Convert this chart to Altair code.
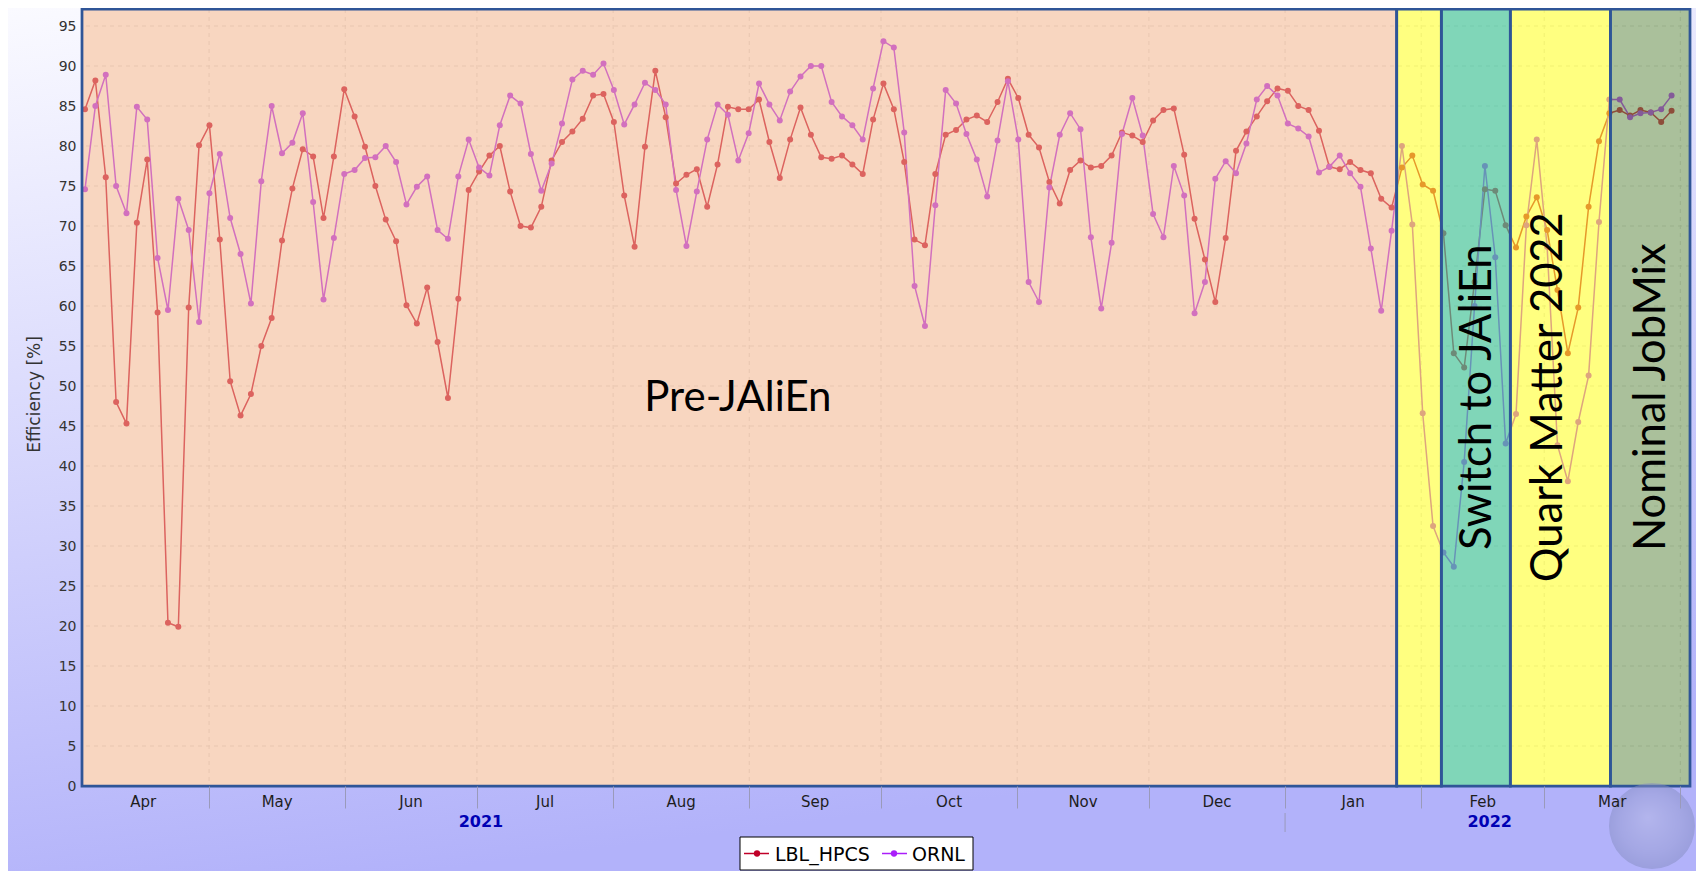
import altair as alt
import pandas as pd

# ---------------- data ----------------
series_names = ["LBL_HPCS", "ORNL"]

lbl_hpcs = [84.6, 88.2, 76.1, 48.0, 45.3, 70.4, 78.3, 59.2, 20.4, 19.9,
            59.8, 80.1, 82.6, 68.3, 50.6, 46.3, 49.0, 55.0, 58.5, 68.2,
            74.7, 79.6, 78.7, 71.0, 78.7, 87.1, 83.7, 79.9, 75.0, 70.8,
            68.1, 60.1, 57.8, 62.3, 55.5, 48.5, 60.9, 74.5, 76.8, 78.8,
            80.0, 74.3, 70.0, 69.8, 72.4, 78.2, 80.5, 81.8, 83.4, 86.3,
            86.5, 83.0, 73.8, 67.4, 79.9, 89.4, 83.6, 75.3, 76.4, 77.1,
            72.4, 77.7, 84.9, 84.6, 84.6, 85.8, 80.5, 76.0, 80.8, 84.8,
            81.4, 78.6, 78.4, 78.8, 77.7, 76.5, 83.3, 87.8, 84.6, 78.0,
            68.3, 67.6, 76.5, 81.4, 82.0, 83.3, 83.8, 83.0, 85.5, 88.4,
            86.0, 81.4, 79.8, 75.5, 72.8, 77.0, 78.2, 77.3, 77.5, 78.8,
            81.7, 81.3, 80.5, 83.2, 84.5, 84.7, 78.9, 70.9, 65.8, 60.5,
            68.5, 79.4, 81.8, 83.7, 85.6, 87.2, 86.9, 85.0, 84.5, 81.9,
            77.4, 77.1, 78.0, 77.0, 76.6, 73.4, 72.3, 77.3, 78.8, 75.2,
            74.4, 69.1, 54.1, 52.3, 63.0, 74.6, 74.4, 70.1, 67.3, 71.2,
            73.6, 69.5, 62.0, 54.1, 59.8, 72.4, 80.6, 84.1, 84.5, 83.8,
            84.5, 84.2, 83.0, 84.4]

ornl = [74.6, 85.0, 88.9, 75.0, 71.6, 84.9, 83.3, 66.0, 59.5, 73.4,
        69.5, 58.0, 74.1, 79.0, 71.0, 66.5, 60.3, 75.6, 85.0, 79.1,
        80.4, 84.1, 73.0, 60.8, 68.5, 76.5, 77.0, 78.5, 78.6, 80.0,
        78.0, 72.7, 74.9, 76.2, 69.5, 68.4, 76.2, 80.8, 77.3, 76.3,
        82.6, 86.3, 85.3, 79.0, 74.4, 77.8, 82.8, 88.3, 89.4, 88.9,
        90.3, 87.0, 82.7, 85.2, 87.9, 87.0, 85.2, 74.5, 67.5, 74.3,
        80.8, 85.2, 83.9, 78.2, 81.6, 87.8, 85.2, 83.2, 86.8, 88.7,
        90.0, 90.0, 85.5, 83.7, 82.6, 80.8, 87.2, 93.1, 92.3, 81.7,
        62.5, 57.5, 72.6, 87.0, 85.3, 81.5, 78.3, 73.7, 80.7, 88.1,
        80.8, 63.0, 60.5, 74.8, 81.4, 84.1, 82.1, 68.6, 59.7, 67.9,
        81.5, 86.0, 81.3, 71.5, 68.6, 77.5, 73.8, 59.1, 63.0, 75.9,
        78.1, 76.6, 80.3, 85.8, 87.5, 86.3, 82.8, 82.2, 81.2, 76.7,
        77.4, 78.8, 76.6, 74.9, 67.2, 59.4, 69.4, 80.0, 70.2, 46.6,
        32.5, 29.2, 27.4, 40.5, 60.0, 77.5, 66.1, 42.8, 46.5, 70.1,
        80.8, 67.4, 42.6, 38.1, 45.5, 51.3, 70.5, 85.8, 85.8, 83.6,
        84.1, 84.2, 84.6, 86.3]

first_sample = "2021-04-02 18:05"
sample_step = "3400min"

x_start = "2021-04-02 01:40"
x_end = "2022-04-03 04:50"

period_names = ["Pre-JAliEn", "Transition", "Switch to JAliEn", "Quark Matter 2022", "Nominal JobMix"]
period_bounds = ["2022-01-26 10:00", "2022-02-05 14:00", "2022-02-21 07:00", "2022-03-16 02:00"]

horizontal_notes = ["Pre-JAliEn"]
horizontal_note_time = ["2021-08-29 10:00"]
vertical_notes = ["Switch to JAliEn", "Quark Matter 2022", "Nominal JobMix"]
vertical_note_time = ["2022-02-13 22:00", "2022-03-02 02:00", "2022-03-25 12:00"]
note_efficiency = 48.5

month_names = ["Apr", "May", "Jun", "Jul", "Aug", "Sep", "Oct", "Nov", "Dec", "Jan", "Feb", "Mar"]
month_first = ["2021-04-01", "2021-05-01", "2021-06-01", "2021-07-01", "2021-08-01", "2021-09-01",
               "2021-10-01", "2021-11-01", "2021-12-01", "2022-01-01", "2022-02-01", "2022-03-01",
               "2022-04-01"]
year_names = ["2021", "2022"]
year_label_time = ["2021-07-01 22:00", "2022-02-16 14:00"]
year_break = "2022-01-01"

# ---------------- helpers / styles ----------------
ORIGIN = pd.Timestamp("2021-04-01")


def day(ts):
    return (pd.Timestamp(ts) - ORIGIN) / pd.Timedelta(days=1)


W, H = 1608, 777
Y_MAX = H / 8.0
X_LO, X_HI = day(x_start), day(x_end)


def px_day(px):
    return X_LO + px * (X_HI - X_LO) / W


LINE_COLORS = ["#c00028", "#aa1efa"]
PERIOD_FILLS = ["rgba(242,180,140,0.55)", "rgba(255,255,43,0.6)", "rgba(74,196,154,0.7)",
                "rgba(255,255,43,0.6)", "rgba(100,140,73,0.55)"]
FRAME = "#2f5597"
GRID = "#dcdcdc"
TICK = "#9a9aba"
AXFONT = "DejaVu Sans"

xs = alt.Scale(domain=[X_LO, X_HI], nice=False, zero=False)
ys = alt.Scale(domain=[0, Y_MAX], nice=False, zero=False)
cs = alt.Scale(domain=series_names, range=LINE_COLORS)

# ---------------- tables ----------------
times = pd.date_range(first_sample, periods=len(lbl_hpcs), freq=sample_step)
days = [day(t) for t in times]
df = pd.DataFrame({
    "day": days + days,
    "eff": lbl_hpcs + ornl,
    "series": [series_names[0]] * len(lbl_hpcs) + [series_names[1]] * len(ornl),
})

edges = [X_LO] + [day(t) for t in period_bounds] + [X_HI]
periods = pd.DataFrame({"period": period_names, "start": edges[:-1], "end": edges[1:]})

month_days = [day(t) for t in month_first]
month_df = pd.DataFrame({"m": month_names,
                         "day": [(a + b) / 2 for a, b in zip(month_days[:-1], month_days[1:])]})
tick_days = [d for d in month_days if X_LO < d < X_HI]
grid_v_df = pd.DataFrame({"day": tick_days})
grid_h_df = pd.DataFrame({"eff": list(range(5, 100, 5))})
year_df = pd.DataFrame({"y": year_names, "day": [day(t) for t in year_label_time]})
year_break_df = pd.DataFrame({"day": [day(year_break)]})
hnote_df = pd.DataFrame({"label": horizontal_notes, "day": [day(t) for t in horizontal_note_time],
                         "eff": [note_efficiency] * len(horizontal_notes)})
vnote_df = pd.DataFrame({"label": vertical_notes, "day": [day(t) for t in vertical_note_time],
                         "eff": [note_efficiency + 0.1] * len(vertical_notes)})
one = pd.DataFrame({"k": [0]})

# shared scales; axes are configured once (on the line layer)
X = lambda f: alt.X(f, scale=xs)
Y = lambda f: alt.Y(f, scale=ys)

# ---------------- layers ----------------
page_grad = alt.LinearGradient(gradient="linear",
                               stops=[alt.GradientStop(color="#fafaff", offset=0),
                                      alt.GradientStop(color="#b2b2fa", offset=1)],
                               x1=0, y1=0, x2=0.25, y2=1)
bg = alt.Chart(one).mark_rect(fill=page_grad, strokeWidth=0).encode(
    x=alt.value(-74), x2=alt.value(W + 6), y=alt.value(-1), y2=alt.value(H + 85))

plot_bg = alt.Chart(one).mark_rect(fill="white", strokeWidth=0).encode(
    x=alt.value(0), x2=alt.value(W), y=alt.value(0), y2=alt.value(H))

grid_h = alt.Chart(grid_h_df).mark_rule(color=GRID, strokeDash=[4, 4], strokeWidth=1).encode(y=Y("eff:Q"))
grid_v = alt.Chart(grid_v_df).mark_rule(color=GRID, strokeDash=[4, 4], strokeWidth=1).encode(x=X("day:Q"))

x_axis = alt.Axis(values=tick_days, labels=False, title=None, grid=False, domain=False,
                  ticks=True, tickSize=22, tickColor=TICK, tickWidth=1, zindex=1)
y_axis = alt.Axis(values=list(range(0, 100, 5)), title="Efficiency [%]", grid=False, domain=False,
                  ticks=False, tickSize=0, labelPadding=6, labelFont=AXFONT, labelFontSize=14,
                  labelColor="#333333", titleFont=AXFONT, titleFontSize=17, titleFontWeight="normal",
                  titleColor="#333333", titleAngle=270, titleX=-48, titleY=385,
                  titleAlign="center", titleBaseline="middle", zindex=1)

lines = alt.Chart(df).mark_line(strokeWidth=1.5).encode(
    x=alt.X("day:Q", scale=xs, axis=x_axis),
    y=alt.Y("eff:Q", scale=ys, axis=y_axis),
    color=alt.Color("series:N", scale=cs, legend=None))
points = alt.Chart(df).mark_circle(size=36, opacity=1).encode(
    x=X("day:Q"), y=Y("eff:Q"), color=alt.Color("series:N", scale=cs, legend=None))

period_fill = alt.Chart(periods).mark_rect(strokeWidth=0).encode(
    x=X("start:Q"), x2="end:Q", y=alt.value(0), y2=alt.value(H),
    fill=alt.Fill("period:N", scale=alt.Scale(domain=period_names, range=PERIOD_FILLS), legend=None))
period_frame = alt.Chart(periods).mark_rect(fillOpacity=0, stroke=FRAME, strokeWidth=2.75).encode(
    x=X("start:Q"), x2="end:Q", y=alt.value(0), y2=alt.value(H))

hnotes = alt.Chart(hnote_df).mark_text(font="Lato", fontSize=42, color="black", align="center",
                                      baseline="middle").encode(x=X("day:Q"), y=Y("eff:Q"), text="label:N")
vnotes = alt.Chart(vnote_df).mark_text(font="Lato", fontSize=43.5, color="black", align="center",
                                      baseline="middle", angle=270).encode(
    x=X("day:Q"), y=Y("eff:Q"), text="label:N")

globe_grad = alt.RadialGradient(gradient="radial",
                                stops=[alt.GradientStop(color="#b4b8e0", offset=0),
                                       alt.GradientStop(color="#969cce", offset=0.7),
                                       alt.GradientStop(color="#848cc0", offset=1)],
                                x1=0.45, y1=0.4, r1=0, x2=0.5, y2=0.5, r2=0.5)
globe = alt.Chart(one).mark_circle(size=7400, fill=globe_grad, opacity=0.5).encode(
    x=alt.value(1570), y=alt.value(817))

months = alt.Chart(month_df).mark_text(font=AXFONT, fontSize=15, color="#1e1e1e", baseline="middle").encode(
    x=X("day:Q"), y=alt.value(H + 16), text="m:N")
years = alt.Chart(year_df).mark_text(font=AXFONT, fontSize=16, fontWeight="bold", color="#0000b4",
                                    baseline="middle").encode(x=X("day:Q"), y=alt.value(H + 36), text="y:N")
year_sep = alt.Chart(year_break_df).mark_rule(color=TICK, strokeWidth=1).encode(
    x=X("day:Q"), y=alt.value(H + 27), y2=alt.value(H + 46))

# legend
leg_df = pd.DataFrame({
    "series": series_names,
    "s0": [px_day(662), px_day(800)],
    "s1": [px_day(687), px_day(825)],
    "dot": [px_day(675), px_day(812)],
    "tx": [px_day(693), px_day(830)],
})
leg_box = alt.Chart(one).mark_rect(fill="white", stroke="black", strokeWidth=1).encode(
    x=alt.value(658), x2=alt.value(891), y=alt.value(828), y2=alt.value(861))
leg_line = alt.Chart(leg_df).mark_rule(strokeWidth=1.5).encode(
    x=X("s0:Q"), x2="s1:Q", y=alt.value(844.5), color=alt.Color("series:N", scale=cs, legend=None))
leg_dot = alt.Chart(leg_df).mark_circle(size=40, opacity=1).encode(
    x=X("dot:Q"), y=alt.value(844.5), color=alt.Color("series:N", scale=cs, legend=None))
leg_text = alt.Chart(leg_df).mark_text(font=AXFONT, fontSize=19, align="left", baseline="middle",
                                       color="black").encode(x=X("tx:Q"), y=alt.value(845.5), text="series:N")

chart = alt.layer(
    bg, plot_bg, grid_h, grid_v, lines, points, period_fill, period_frame,
    hnotes, vnotes, globe, months, years, year_sep, leg_box, leg_line, leg_dot, leg_text
).properties(
    width=W, height=H,
    padding={"left": 74, "top": 1, "right": 6, "bottom": 85},
    autosize=alt.AutoSizeParams(type="none"),
).configure_view(strokeWidth=0)

chart.save("out.html", embed_options={"renderer": "svg", "actions": False})
